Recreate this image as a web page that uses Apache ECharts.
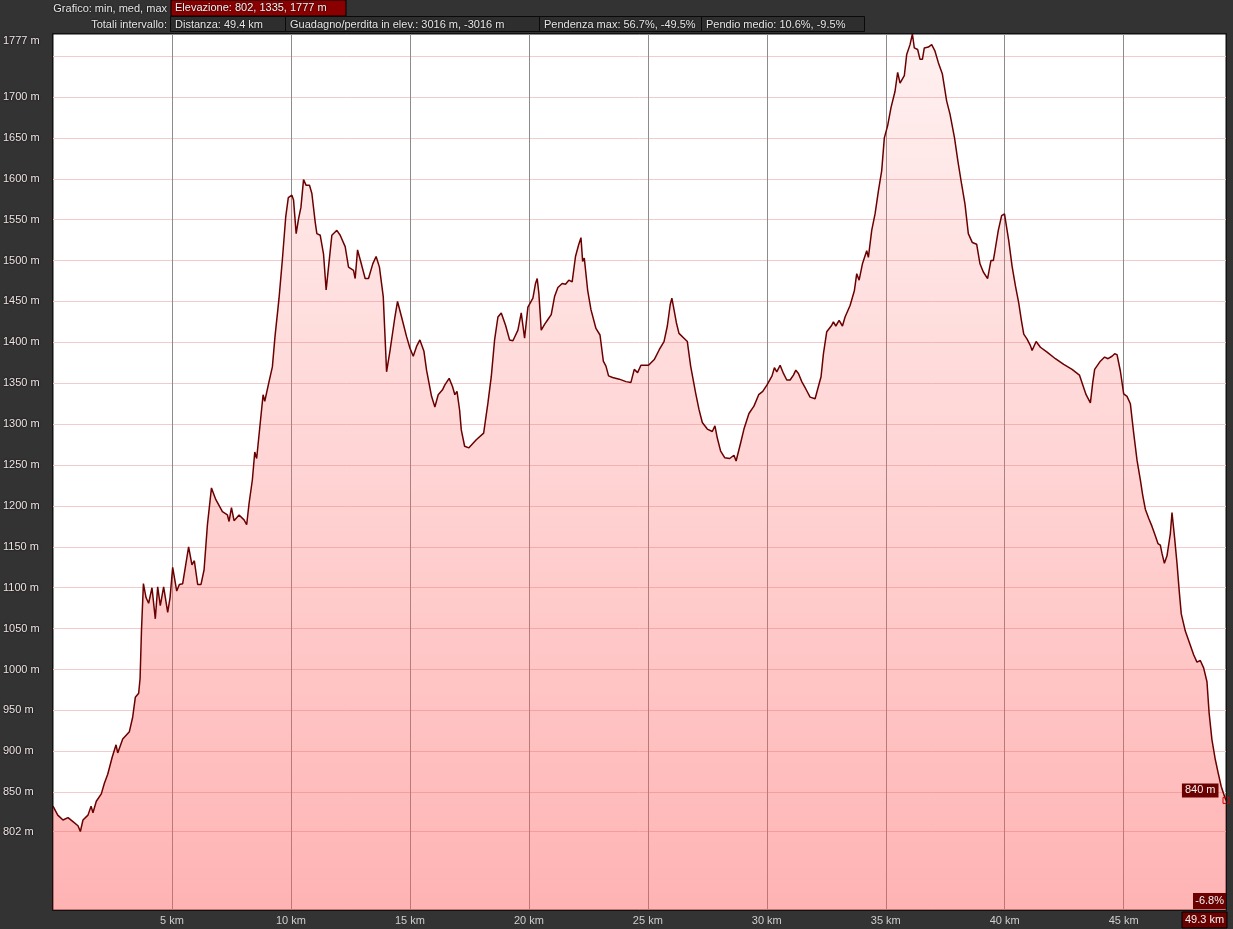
<!DOCTYPE html>
<html><head><meta charset="utf-8">
<script src="https://cdn.jsdelivr.net/npm/echarts@6/dist/echarts.min.js"></script>
<style>html,body{margin:0;padding:0;background:#333;}#c{width:1233px;height:929px;}</style>
</head><body><div id="c"></div>
<script>
// distance (km) along the track
const distKm = [
0,0.2,0.42,0.63,0.84,1.05,1.15,1.26,1.47,1.6,1.68,1.82,2.03,2.16,2.3,2.49,2.65,2.72,2.93,3.21,3.35,3.46,3.6,3.66,3.72,3.8,3.91,4.02,4.16,4.3,4.4,4.51,4.65,4.82,4.92,5.03,5.2,5.31,5.45,5.7,5.84,5.94,6.08,6.22,6.35,6.49,6.66,6.84,7.12,7.33,7.4,7.5,7.61,7.82,8.03,8.14,8.24,8.38,8.48,8.56,8.66,8.83,8.9,9.08,9.22,9.33,9.5,9.64,9.78,9.89,9.96,
10.04,10.11,10.22,10.32,10.42,10.53,10.64,10.78,10.88,11.02,11.09,11.23,11.37,11.48,11.58,11.72,11.93,12.07,12.28,12.42,12.63,12.7,12.8,12.94,13.12,13.26,13.44,13.58,13.72,13.88,14.02,14.16,14.37,14.48,14.65,14.86,15.0,15.14,15.28,15.42,15.59,15.7,15.91,16.05,16.19,16.37,16.47,16.65,16.79,16.89,16.98,17.09,17.16,17.3,17.48,17.79,18.1,18.28,18.42,18.56,18.7,18.84,19.02,19.19,19.33,19.54,19.68,19.82,19.96,20.17,20.28,
20.35,20.42,20.52,20.66,20.8,20.94,21.08,21.22,21.4,21.54,21.68,21.82,21.96,22.09,22.19,22.26,22.33,22.47,22.61,22.82,22.99,23.13,23.24,23.35,23.52,23.8,24.08,24.29,24.43,24.57,24.71,25.03,25.27,25.48,25.68,25.82,25.94,26.01,26.1,26.2,26.31,26.52,26.66,26.8,27.01,27.15,27.29,27.5,27.71,27.82,27.92,28.06,28.23,28.44,28.62,28.71,28.9,29.04,29.25,29.46,29.66,29.83,30.01,30.22,
30.32,30.42,30.56,30.7,30.84,30.98,31.12,31.22,31.33,31.47,31.64,31.82,32.03,32.14,32.28,32.38,32.52,32.73,32.8,32.9,33.04,33.18,33.29,33.5,33.68,33.78,33.88,34.02,34.2,34.27,34.41,34.55,34.69,34.83,34.94,35.08,35.22,35.39,35.5,35.6,35.78,35.88,36.02,36.12,36.2,36.34,36.44,36.54,36.62,36.79,36.93,37.07,37.21,37.38,37.56,37.7,37.89,38.03,38.19,38.33,38.47,38.64,38.82,38.96,39.1,39.28,39.42,39.52,39.59,39.73,39.87,39.99,
40.17,40.31,40.45,40.59,40.7,40.8,40.94,41.08,41.15,41.32,41.5,41.78,42.13,42.48,42.83,43.14,43.28,43.42,43.6,43.7,43.78,44.02,44.2,44.34,44.51,44.62,44.72,44.86,45.0,45.14,45.28,45.42,45.56,45.7,45.8,45.91,46.05,46.19,46.3,46.44,46.54,46.61,46.71,46.82,46.96,47.03,47.14,47.24,47.34,47.42,47.59,47.76,47.94,48.08,48.22,48.36,48.5,48.59,48.71,48.85,48.99,49.1,49.2,49.3
];
// elevation (m)
const elevM = [
833,822,816,819,814,809,802,816,822,833,825,839,848,861,872,893,908,898,915,924,942,966,971,989,1049,1105,1088,1081,1100,1062,1101,1078,1101,1070,1088,1125,1096,1104,1105,1150,1128,1133,1104,1104,1122,1177,1222,1208,1193,1189,1181,1198,1182,1189,1183,1177,1203,1232,1266,1258,1287,1336,1328,1352,1370,1407,1454,1501,1553,1577,1579,
1580,1574,1533,1551,1565,1599,1592,1592,1582,1547,1533,1531,1508,1464,1492,1531,1537,1531,1517,1492,1488,1478,1513,1498,1478,1478,1496,1505,1492,1456,1364,1389,1431,1450,1431,1407,1393,1383,1395,1403,1389,1366,1334,1321,1336,1342,1348,1356,1346,1336,1340,1317,1293,1273,1271,1281,1289,1326,1358,1403,1431,1436,1421,1403,1402,1415,1436,1405,1443,1454,1472,
1478,1460,1415,1422,1428,1434,1456,1467,1472,1471,1476,1474,1505,1519,1528,1499,1503,1464,1440,1417,1409,1377,1371,1359,1357,1355,1352,1351,1367,1363,1372,1372,1379,1391,1401,1420,1446,1454,1440,1424,1411,1405,1401,1371,1338,1318,1302,1294,1291,1298,1283,1267,1259,1258,1262,1255,1277,1294,1313,1322,1336,1340,1348,1359,
1369,1364,1372,1362,1354,1354,1360,1366,1362,1352,1343,1333,1331,1343,1358,1386,1413,1421,1425,1420,1427,1420,1431,1445,1463,1484,1476,1496,1512,1504,1537,1557,1585,1610,1650,1665,1687,1707,1730,1717,1726,1752,1764,1777,1760,1758,1746,1746,1760,1761,1764,1756,1742,1728,1695,1679,1650,1622,1593,1569,1533,1522,1520,1496,1486,1478,1500,1500,1512,1537,1555,1557,
1524,1493,1469,1448,1427,1410,1404,1396,1390,1401,1394,1388,1380,1373,1367,1360,1348,1336,1326,1351,1367,1377,1382,1380,1383,1386,1385,1365,1337,1334,1325,1289,1256,1232,1213,1196,1185,1175,1166,1154,1152,1142,1130,1139,1166,1192,1161,1130,1094,1068,1047,1033,1018,1009,1011,1002,985,947,914,890,871,857,848,840
];
const yGridValues = [802,850,900,950,1000,1050,1100,1150,1200,1250,1300,1350,1400,1450,1500,1550,1600,1650,1700,1750];
const yLabelValues = [802,850,900,950,1000,1050,1100,1150,1200,1250,1300,1350,1400,1450,1500,1550,1600,1650,1700,1777];
const xTickValues = [5,10,15,20,25,30,35,40,45];
const yMin = 706, yMax = 1777, xMax = 49.3;
const header1Label = 'Grafico: min, med, max';
const header1Box = 'Elevazione: 802, 1335, 1777 m';
const header2Label = 'Totali intervallo:';
const header2Boxes = ['Distanza: 49.4 km','Guadagno/perdita in elev.: 3016 m, -3016 m','Pendenza max: 56.7%, -49.5%','Pendio medio: 10.6%, -9.5%'];
const header2Edges = [170,285,539,701,864];
const cursorPoint = [49.3, 840];
const cursorSlope = '-6.8%';
const cursorDist = '49.3 km';

const data = distKm.map((d,i)=>[d, elevM[i]]);
const FONT = 'Liberation Sans, Arial, sans-serif';

const graphic = [];
graphic.push({type:'text', x:167, y:3, style:{text:header1Label, fill:'#e6e6e6', font:'11px '+FONT, textAlign:'right', textShadowColor:'#000', textShadowBlur:2}, silent:true});
graphic.push({type:'rect', shape:{x:171,y:0,width:175,height:16}, style:{fill:'#8a0000', stroke:'#000', lineWidth:1}, silent:true});
graphic.push({type:'text', x:175, y:2, style:{text:header1Box, fill:'#f2f2f2', font:'11px '+FONT, textShadowColor:'#000', textShadowBlur:2}, silent:true});
graphic.push({type:'text', x:167, y:19, style:{text:header2Label, fill:'#e6e6e6', font:'11px '+FONT, textAlign:'right', textShadowColor:'#000', textShadowBlur:2}, silent:true});
header2Boxes.forEach((t,i)=>{
  graphic.push({type:'rect', shape:{x:header2Edges[i]+0.5,y:16.5,width:header2Edges[i+1]-header2Edges[i],height:15}, style:{fill:'#2e2e2e', stroke:'#0a0a0a', lineWidth:1}, silent:true});
  graphic.push({type:'text', x:header2Edges[i]+5, y:19, style:{text:t, fill:'#e6e6e6', font:'11px '+FONT, textShadowColor:'#000', textShadowBlur:2}, silent:true});
});
graphic.push({type:'rect', shape:{x:1193,y:893,width:33,height:16}, style:{fill:'#6a0000'}, silent:true, z:50});
graphic.push({type:'text', x:1224, y:895, style:{text:cursorSlope, fill:'#f2f2f2', font:'11px '+FONT, textAlign:'right'}, silent:true, z:51});
graphic.push({type:'rect', shape:{x:1182,y:912,width:45,height:16}, style:{fill:'#6a0000', stroke:'#000', lineWidth:1}, silent:true, z:50});
graphic.push({type:'text', x:1185, y:914, style:{text:cursorDist, fill:'#f2f2f2', font:'11px '+FONT}, silent:true, z:51});
graphic.push({type:'rect', shape:{x:52.5,y:33.5,width:1174,height:877}, style:{fill:'none', stroke:'#111', lineWidth:1}, silent:true, z:40});

const chart = echarts.init(document.getElementById('c'), null, {renderer:'canvas'});
chart.setOption({
  backgroundColor:'#333',
  animation:false,
  grid:{left:52, right:7, top:34, bottom:19, show:true, backgroundColor:'#ffffff', borderColor:'#111', borderWidth:1, containLabel:false},
  xAxis:{type:'value', min:0, max:xMax, interval:5,
    axisLine:{show:false}, axisTick:{show:false, customValues:xTickValues},
    axisLabel:{customValues:xTickValues, formatter:v=>v+' km', color:'#cfcfcf', fontFamily:FONT, fontSize:11, margin:5},
    splitLine:{show:true, lineStyle:{color:'#8c8c8c', width:1}}},
  yAxis:{type:'value', min:yMin, max:yMax,
    axisLine:{show:false}, axisTick:{show:false, customValues:yGridValues},
    axisLabel:{customValues:yLabelValues, align:'left', margin:50, color:'#f0e4e4', fontFamily:FONT, fontSize:11,
      textShadowColor:'#000', textShadowBlur:2,
      formatter:v=> v===yMax ? '{t|'+v+' m}' : v+' m',
      rich:{t:{padding:[14,0,0,0], color:'#f0e4e4', fontFamily:FONT, fontSize:11, textShadowColor:'#000', textShadowBlur:2}}},
    splitLine:{show:true, lineStyle:{color:'#f0cccc', width:1}}},
  series:[{
    type:'line', data:data, symbol:'none', sampling:null, z:3,
    lineStyle:{color:'#6b0000', width:1.5},
    areaStyle:{opacity:1, color:new echarts.graphic.LinearGradient(0,0,0,1,[{offset:0,color:'rgba(255,110,110,0.1)'},{offset:1,color:'rgba(255,90,90,0.46)'}])}
  },{
    type:'scatter', data:[cursorPoint], symbol:'rect', symbolSize:6, z:5,
    itemStyle:{opacity:1, color:'rgba(0,0,0,0)', borderColor:'#d00000', borderWidth:1},
    label:{show:true, opacity:1, position:'left', distance:4, offset:[0,-10], formatter:p=>p.value[1]+' m',
      backgroundColor:'#6a0000', color:'#f2f2f2', fontFamily:FONT, fontSize:11, padding:[2,3,1,3]}
  }],
  graphic:graphic
});
</script></body></html>
